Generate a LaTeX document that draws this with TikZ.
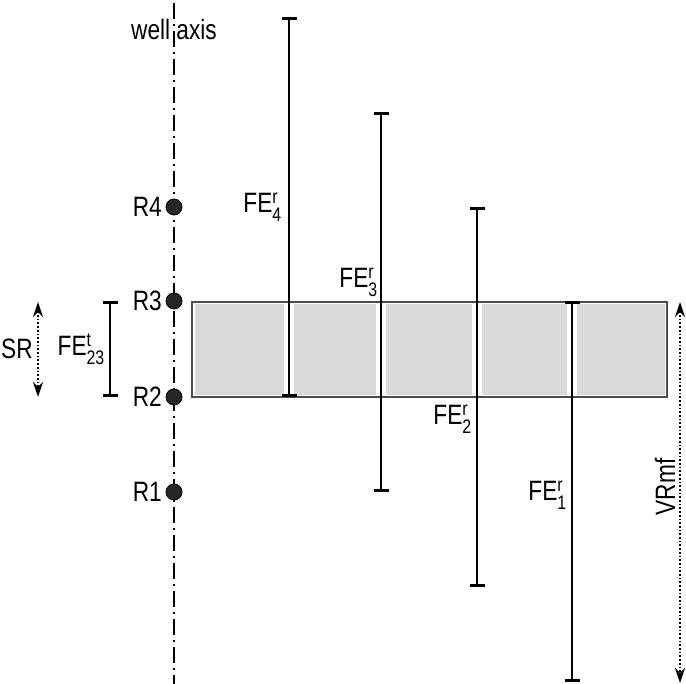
\documentclass[tikz,border=0pt]{standalone}
\usepackage{amsmath}
\usepackage{fontspec}
\setmainfont[FakeStretch=0.81]{Liberation Sans}
\usetikzlibrary{arrows.meta}
\tikzset{
  x=1pt, y=-1pt,
  lbl/.style={inner sep=0pt, font=\fontsize{28}{32}\selectfont},
  dot/.style={circle, fill=black!85, draw=black, line width=0.8pt, minimum size=16pt, inner sep=0pt},
  axisline/.style={line width=1.8pt, dash pattern=on 16pt off 5pt on 2pt off 5pt},
  febar/.style={line width=2.6pt, {Bar[width=15pt,line width=2.6pt]}-{Bar[width=15pt,line width=2.6pt]}},
  dimarrow/.style={line width=1.7pt, dotted, {Stealth[length=15pt,width=10pt]}-{Stealth[length=15pt,width=10pt]}},
  cell/.style={fill=black!15, draw=none},
}
\begin{document}
\begin{tikzpicture}
\useasboundingbox (0,0) rectangle (686,684);
% formation box
\node[draw=black!70, fill=white, line width=1.2pt, minimum width=475pt, minimum height=95pt, inner sep=0pt] (box) at (429.5,349.5) {};
\fill[cell] (194.5,304) rectangle (284,395);
\fill[cell] (294,304) rectangle (376,395);
\fill[cell] (386,304) rectangle (472,395);
\fill[cell] (482,304) rectangle (567,395);
\fill[cell] (577,304) rectangle (665,395);
% well axis
\coordinate (wtop) at (174,3);
\coordinate (wbot) at (174,684);
\draw[axisline] (wtop) -- (wbot);
\node[lbl] (wl) at (174,29) {well axis};
% receivers
\node[dot] (r4) at (174,207) {};
\node[dot] (r3) at (174,301) {};
\node[dot] (r2) at (174,397) {};
\node[dot] (r1) at (174,492) {};
\node[lbl, anchor=east] (l4) at (162,207) {R4};
\node[lbl, anchor=east] (l3) at (162,301) {R3};
\node[lbl, anchor=east] (l2) at (162,397) {R2};
\node[lbl, anchor=east] (l1) at (162,492) {R1};
% FE bars
\coordinate (f4t) at (289,17);  \coordinate (f4b) at (289,397);
\coordinate (f3t) at (381,112); \coordinate (f3b) at (381,492);
\coordinate (f2t) at (477,207); \coordinate (f2b) at (477,587);
\coordinate (f1t) at (572,301); \coordinate (f1b) at (572,682);
\draw[febar] (f4t) -- (f4b);
\draw[febar] (f3t) -- (f3b);
\draw[febar] (f2t) -- (f2b);
\draw[febar] (f1t) -- (f1b);
\node[lbl, anchor=east] (fe4) at (282,207) {FE$^{\text{r}}_{\text{4}}$};
\node[lbl, anchor=east] (fe3) at (378,282) {FE$^{\text{r}}_{\text{3}}$};
\node[lbl, anchor=east] (fe2) at (472,419) {FE$^{\text{r}}_{\text{2}}$};
\node[lbl, anchor=east] (fe1) at (567,495) {FE$^{\text{r}}_{\text{1}}$};
% FE23 bracket
\coordinate (tt) at (110,301); \coordinate (tb) at (110,397);
\draw[febar] (tt) -- (tb);
\node[lbl, anchor=east] (fe23) at (105,349) {FE$^{\text{t}}_{\text{23}}$};
% SR arrow
\coordinate (srt) at (38,302); \coordinate (srb) at (38,397);
\draw[dimarrow] (srt) -- (srb);
\node[lbl] (sr) at (17,349) {SR};
% VRmf arrow
\coordinate (vt) at (680,302); \coordinate (vb) at (680,683);
\draw[dimarrow] (vt) -- (vb);
\node[lbl, rotate=90] (vr) at (665,487) {VRmf};
\end{tikzpicture}
\end{document}
